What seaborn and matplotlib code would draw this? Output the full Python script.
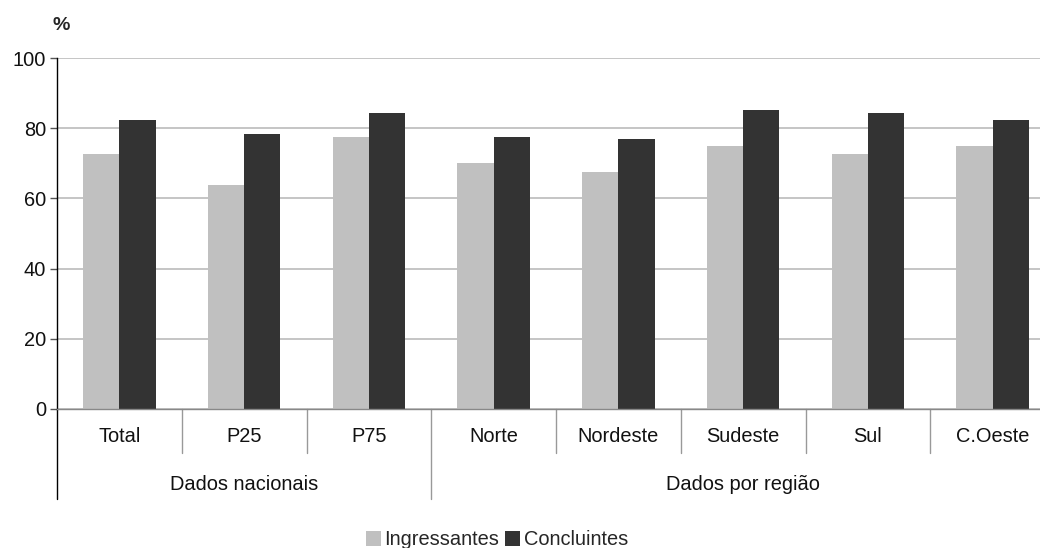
import pandas as pd
import matplotlib
matplotlib.use('Agg')
import matplotlib.pyplot as plt
import matplotlib.transforms as mtransforms
import seaborn as sns

# Data
categories = ["Total", "P25", "P75", "Norte", "Nordeste", "Sudeste", "Sul", "C.Oeste"]
ingressantes = [72.6, 63.8, 77.5, 70.1, 67.5, 74.9, 72.6, 74.9]
concluintes = [82.3, 78.3, 84.3, 77.5, 76.9, 85.2, 84.3, 82.3]
groups = ["Dados nacionais", "Dados por região"]
group_sizes = [3, 5]
series_names = ["Ingressantes", "Concluintes"]
yticks = [0, 20, 40, 60, 80, 100]

df = pd.DataFrame({
    "categoria": categories * 2,
    "serie": [series_names[0]] * len(categories) + [series_names[1]] * len(categories),
    "valor": ingressantes + concluintes,
})

sns.set_theme(style="white")
plt.rcParams['font.family'] = ['Liberation Sans', 'DejaVu Sans']
FS = 14.4

W, H = 1040, 548
fig = plt.figure(figsize=(W / 100, H / 100), dpi=100)
ax_left, ax_right, ax_top, ax_bottom = 57, 1055, 58, 409
ax = fig.add_axes([ax_left / W, (H - ax_bottom) / H,
                   (ax_right - ax_left) / W, (ax_bottom - ax_top) / H])

sns.barplot(data=df, x="categoria", y="valor", hue="serie", order=categories,
            hue_order=series_names, palette=["#c0c0c0", "#333333"],
            width=0.58, saturation=1, linewidth=0, ax=ax, legend=True)

ax.set_xlim(-0.5, len(categories) - 0.5)
ax.set_ylim(0, 100)
ax.set_yticks(yticks)
ax.set_yticklabels([str(v) for v in yticks], fontsize=FS, color="#111111")
ax.yaxis.grid(True, color="#c0c0c0", linewidth=1.3)
ax.set_axisbelow(True)
ax.tick_params(axis='y', left=True, length=5, width=1, color="#555555", pad=3)
ax.set_xticks([])
ax.set_xlabel("")
ax.set_ylabel("")

for s in ["top", "right"]:
    ax.spines[s].set_visible(False)
ax.spines["left"].set_color("black")
ax.spines["left"].set_linewidth(1)
ax.spines["bottom"].set_color("#888888")
ax.spines["bottom"].set_linewidth(1)

# Category separators and labels below the axis
trans = mtransforms.blended_transform_factory(ax.transData, ax.transAxes)
plot_h = ax_bottom - ax_top
short = 44 / plot_h
long_ = 90 / plot_h
group_edges = [-0.5]
for n in group_sizes:
    group_edges.append(group_edges[-1] + n)

for i in range(len(categories) + 1):
    xb = i - 0.5
    depth = long_ if xb in group_edges else short
    ax.plot([xb, xb], [0, -depth], transform=trans, color="#999999" if xb != -0.5 else "black",
            linewidth=1, clip_on=False)

for i, c in enumerate(categories):
    ax.text(i, -28 / plot_h, c, transform=trans, ha="center", va="center",
            fontsize=FS, color="#111111")

for g, a, b in zip(groups, group_edges[:-1], group_edges[1:]):
    ax.text((a + b) / 2, -76 / plot_h, g, transform=trans, ha="center", va="center",
            fontsize=FS, color="#111111")

fig.text(61 / W, 1 - 25 / H, "%", fontsize=14, fontweight="bold", ha="center", va="center")

handles, labels = ax.get_legend_handles_labels()
ax.get_legend().remove()
fig.legend(handles, labels, loc="lower center", bbox_to_anchor=(0.478, -0.035), ncol=2,
           frameon=False, fontsize=FS, handlelength=0.75, handleheight=0.75,
           handletextpad=0.2, columnspacing=0.3)

fig.savefig("out.png", dpi=100)
plt.close(fig)
